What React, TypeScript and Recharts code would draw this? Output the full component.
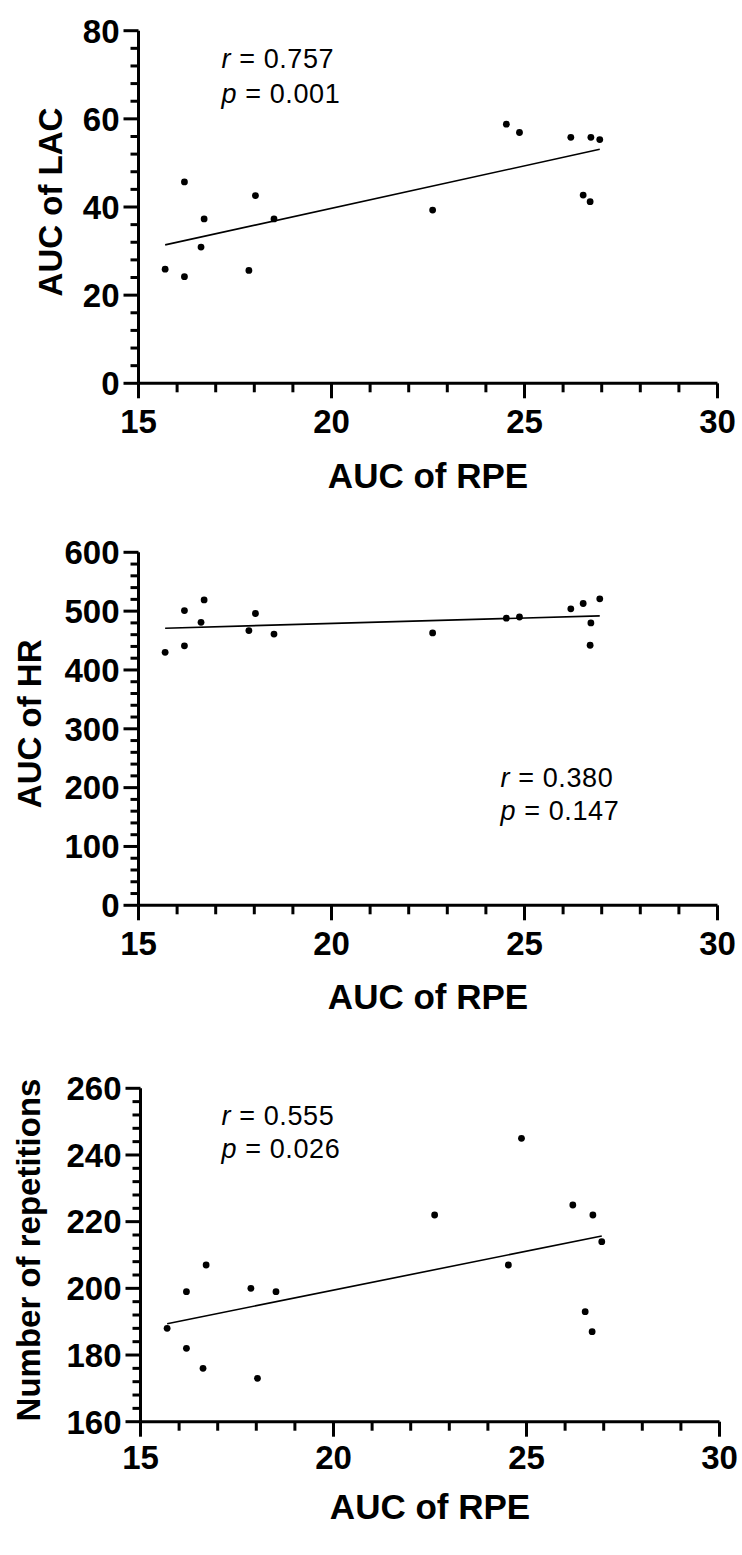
import React from 'react';
import { ScatterChart, Scatter, XAxis, YAxis, ReferenceLine, ReferenceDot } from 'recharts';

// ---- data ----
const RPE = [15.69, 16.19, 16.19, 16.70, 16.62, 17.86, 18.03, 18.51, 22.62, 24.53, 24.87, 26.20, 26.72, 26.95, 26.52, 26.70];
const LAC = [25.9, 45.7, 24.2, 37.3, 30.9, 25.6, 42.6, 37.3, 39.3, 58.8, 56.9, 55.8, 55.8, 55.3, 42.7, 41.2];
const HR = [430, 501, 441, 519, 481, 467, 496, 461, 463, 488, 490, 504, 480, 521, 513, 442];
const REPS = [188, 199, 182, 207, 176, 200, 173, 199, 222, 207, 245, 225, 222, 214, 193, 187];

// regression line end points (x range and fitted y at each end)
const FIT_X = [15.69, 26.95];
const LAC_FIT = [31.4, 53.1];
const HR_FIT = [471, 492];
const REPS_FIT = [189.4, 215.7];

// ticks
const range = (a: number, b: number, s: number) => {
  const out: number[] = [];
  for (let v = a; v <= b + 1e-9; v += s) out.push(Math.round(v * 1000) / 1000);
  return out;
};
const X_TICKS = range(15, 30, 1);
const X_LABELS = [15, 20, 25, 30];
const LAC_TICKS = range(0, 80, 4);
const LAC_LABELS = [0, 20, 40, 60, 80];
const HR_TICKS = range(0, 600, 20);
const HR_LABELS = [0, 100, 200, 300, 400, 500, 600];
const REPS_TICKS = range(160, 260, 4);
const REPS_LABELS = [160, 180, 200, 220, 240, 260];

const X_TITLE = 'AUC of RPE';

const FONT = '"Liberation Sans", Arial, Helvetica, sans-serif';
const W = 742;

type PanelProps = {
  top: number;
  height: number;
  plotTop: number;
  plotBottom: number;
  plotLeft: number;
  plotRight: number;
  ys: number[];
  fit: number[];
  yDomain: [number, number];
  yTicks: number[];
  yLabels: number[];
  yTitle: string;
  yTitleX: number;
  xLabelDy: number;
  xTitleDy: number;
  r: string;
  p: string;
  noteX: number;
  noteY: number;
  noteGap: number;
};

function Panel(props: PanelProps) {
  const data = RPE.map((x, i) => ({ x, y: props.ys[i] }));
  const margin = {
    top: props.plotTop - props.top,
    left: props.plotLeft - 100,
    right: W - props.plotRight,
    bottom: props.top + props.height - props.plotBottom - 60,
  };

  const xTick = (tp: any) => {
    const { x, y, payload } = tp;
    const major = X_LABELS.includes(payload.value);
    return (
      <g>
        <line x1={x} x2={x} y1={y} y2={y + (major ? 15 : 9)} stroke="#000" strokeWidth={3} />
        {major && (
          <text x={x} y={y + props.xLabelDy} textAnchor="middle" fontFamily={FONT} fontWeight="bold" fontSize={33} fill="#000">
            {payload.value}
          </text>
        )}
      </g>
    );
  };

  const yTick = (tp: any) => {
    const { x, y, payload } = tp;
    const major = props.yLabels.includes(payload.value);
    return (
      <g>
        <line x1={x - (major ? 15 : 8)} x2={x} y1={y} y2={y} stroke="#000" strokeWidth={3} />
        {major && (
          <text x={x - 19} y={y + 11.8} textAnchor="end" fontFamily={FONT} fontWeight="bold" fontSize={33} fill="#000">
            {payload.value}
          </text>
        )}
      </g>
    );
  };

  const xTitle = (lp: any) => {
    const vb = lp.viewBox || {};
    return (
      <text x={vb.x + vb.width / 2} y={vb.y + props.xTitleDy} textAnchor="middle" fontFamily={FONT} fontWeight="bold" fontSize={35} fill="#000">
        {X_TITLE}
      </text>
    );
  };

  const yTitle = (lp: any) => {
    const vb = lp.viewBox || {};
    const cy = vb.y + vb.height / 2 - 5;
    return (
      <text
        transform={`translate(${props.yTitleX},${cy}) rotate(-90)`}
        textAnchor="middle"
        fontFamily={FONT}
        fontWeight="bold"
        fontSize={33}
        fill="#000"
      >
        {props.yTitle}
      </text>
    );
  };

  const note = (lp: any) => {
    const vb = lp.viewBox || {};
    const x = vb.x + (vb.width || 0) / 2;
    const y = vb.y + (vb.height || 0) / 2;
    return (
      <g>
        <text x={x} y={y} fontFamily={FONT} fontSize={27} letterSpacing={0.6} fill="#000">
          <tspan fontStyle="italic">r</tspan>
          <tspan>{` = ${props.r}`}</tspan>
        </text>
        <text x={x} y={y + props.noteGap} fontFamily={FONT} fontSize={27} letterSpacing={0.6} fill="#000">
          <tspan fontStyle="italic">p</tspan>
          <tspan>{` = ${props.p}`}</tspan>
        </text>
      </g>
    );
  };

  return (
    <div style={{ position: 'absolute', left: 0, top: props.top, width: W, height: props.height }}>
      <ScatterChart width={W} height={props.height} margin={margin}>
        <XAxis
          type="number"
          dataKey="x"
          domain={[15, 30]}
          ticks={X_TICKS}
          interval={0}
          tickSize={0}
          tickMargin={0}
          tickLine={false}
          axisLine={{ stroke: '#000', strokeWidth: 3 }}
          tick={xTick}
          height={60}
          allowDataOverflow
          label={xTitle}
        />
        <YAxis
          type="number"
          dataKey="y"
          domain={props.yDomain}
          ticks={props.yTicks}
          interval={0}
          tickSize={0}
          tickMargin={0}
          tickLine={false}
          axisLine={{ stroke: '#000', strokeWidth: 3 }}
          tick={yTick}
          width={100}
          allowDataOverflow
          label={yTitle}
        />
        <ReferenceLine
          segment={[
            { x: FIT_X[0], y: props.fit[0] },
            { x: FIT_X[1], y: props.fit[1] },
          ]}
          stroke="#000"
          strokeWidth={1.6}
          ifOverflow="visible"
        />
        <ReferenceDot x={props.noteX} y={props.noteY} r={0} fill="none" stroke="none" label={note} ifOverflow="visible" />
        <Scatter
          data={data}
          isAnimationActive={false}
          fill="#000"
          shape={(sp: any) => <circle cx={sp.cx} cy={sp.cy} r={3.4} fill="#000" />}
        />
      </ScatterChart>
    </div>
  );
}

export default function App() {
  return (
    <div style={{ position: 'absolute', left: 0, top: 0, width: W, height: 1555, background: '#fff' }}>
      <Panel
        top={0}
        height={520}
        plotTop={30.7}
        plotBottom={383.3}
        plotLeft={138.5}
        plotRight={717.5}
        ys={LAC}
        fit={LAC_FIT}
        yDomain={[0, 80]}
        yTicks={LAC_TICKS}
        yLabels={LAC_LABELS}
        yTitle="AUC of LAC"
        yTitleX={62}
        xLabelDy={50}
        xTitleDy={105}
        r="0.757"
        p="0.001"
        noteX={17.15}
        noteY={71.47}
        noteGap={35}
      />
      <Panel
        top={520}
        height={520}
        plotTop={552.3}
        plotBottom={905.3}
        plotLeft={138.5}
        plotRight={717.5}
        ys={HR}
        fit={HR_FIT}
        yDomain={[0, 600]}
        yTicks={HR_TICKS}
        yLabels={HR_LABELS}
        yTitle="AUC of HR"
        yTitleX={41}
        xLabelDy={50}
        xTitleDy={104}
        r="0.380"
        p="0.147"
        noteX={24.38}
        noteY={201.6}
        noteGap={33.5}
      />
      <Panel
        top={1040}
        height={515}
        plotTop={1088.3}
        plotBottom={1421.7}
        plotLeft={140.5}
        plotRight={719.5}
        ys={REPS}
        fit={REPS_FIT}
        yDomain={[160, 260]}
        yTicks={REPS_TICKS}
        yLabels={REPS_LABELS}
        yTitle="Number of repetitions"
        yTitleX={40}
        xLabelDy={47}
        xTitleDy={97}
        r="0.555"
        p="0.026"
        noteX={17.1}
        noteY={249.0}
        noteGap={33.3}
      />
    </div>
  );
}
